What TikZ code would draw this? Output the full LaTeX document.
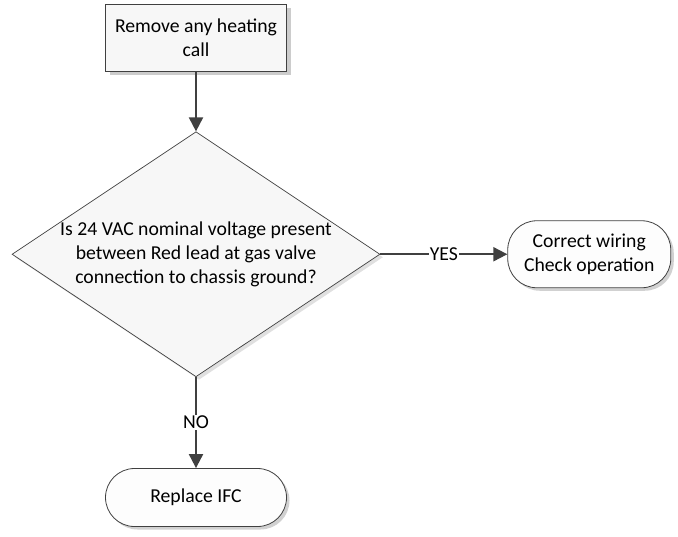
\documentclass[tikz,border=0pt]{standalone}
\usepackage{fontspec}
\setmainfont{Carlito}
\usetikzlibrary{arrows.meta,positioning,shadows,shapes.geometric}
\definecolor{LineGray}{RGB}{64,64,64}
\definecolor{ShapeGray}{RGB}{247,247,247}
\definecolor{ShapeLight}{RGB}{253,253,253}
\tikzset{
  flowbox/.style={draw=LineGray,line width=0.8pt,fill=ShapeGray,
    minimum width=181pt,minimum height=67pt,align=center,
    drop shadow={shadow xshift=4pt,shadow yshift=-4pt,fill=black,opacity=0.2}},
  decision/.style={draw=LineGray,line width=0.7pt,diamond,inner sep=0pt,
    minimum width=368pt,minimum height=245pt,fill=ShapeGray,
    drop shadow={shadow xshift=3pt,shadow yshift=-3pt,fill=black,opacity=0.12}},
  terminator/.style={draw=LineGray,line width=0.8pt,rounded corners=29pt,
    fill=ShapeLight,align=center,
    drop shadow={shadow xshift=3pt,shadow yshift=-3pt,fill=black,opacity=0.18}},
  flowarrow/.style={-{Triangle[length=14pt,width=14pt]},line width=2pt,draw=LineGray},
  flowlabel/.style={fill=white,inner sep=1pt},
}

\begin{document}
\begin{tikzpicture}[x=1pt,y=1pt,font=\fontsize{19.7}{24}\selectfont]
  \useasboundingbox (0,0) rectangle (678,-536);
  \node[flowbox] (heat) at (196,-37.5) {Remove any heating\\call};
  \node[decision,below=60pt of heat] (volt) {};
  \node[align=center] (volttext) at (volt) {Is 24 VAC nominal voltage present\\between Red lead at gas valve\\connection to chassis ground?};
  \node[terminator,minimum width=163pt,minimum height=67pt,right=127pt of volt] (wiring) {Correct wiring\\Check operation};
  \node[terminator,minimum width=181pt,minimum height=58pt,below=91pt of volt] (ifc) {Replace IFC};
  \draw[flowarrow] (heat) -- (volt);
  \draw[flowarrow] (volt) -- node[flowlabel] {YES} (wiring);
  \draw[flowarrow] (volt) -- node[flowlabel] {NO} (ifc);
\end{tikzpicture}
\end{document}
